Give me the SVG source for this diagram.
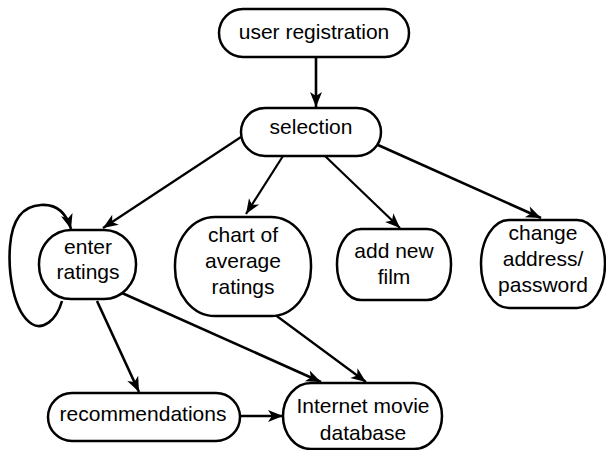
<svg xmlns="http://www.w3.org/2000/svg" width="606" height="450" viewBox="0 0 606 450">
<defs>
<marker id="ah" markerUnits="userSpaceOnUse" markerWidth="20" markerHeight="14" viewBox="-16 -7 17 14" refX="0" refY="0" orient="auto">
<path d="M0,0 L-15,-6 L-11,0 L-15,6 Z" fill="#000"/>
</marker>
</defs>
<style>
.n{fill:#fff;stroke:#000;stroke-width:2.5}
.t{font-family:"Liberation Sans",Arial,Helvetica,sans-serif;font-size:21px;fill:#000;text-anchor:middle}
.e{fill:none;stroke:#000;stroke-width:2.6;marker-end:url(#ah)}
.th{stroke-width:2.2}
</style>
<rect width="606" height="450" fill="#fff"/>
<g id="edges">
<path class="e" d="M316,57 L316,107"/>
<path class="e th" d="M241,137 L103,228"/>
<path class="e th" d="M283,156 L246,214"/>
<path class="e th" d="M325,156 L400,228"/>
<path class="e" d="M378,145 L541,218"/>
<path class="e" d="M97,301 L139,392"/>
<path class="e" d="M122,293 L321,382"/>
<path class="e th" d="M274,314 L366,382"/>
<path class="e" d="M240,416 L283,416"/>
<path class="e" d="M62,301 C56,322 42,330 32,324 C13,312 8,272 10,246 C12,220 22,206 41,205 C56,204 66,212 71,229"/>
</g>
<g id="user-registration">
<rect class="n" x="219" y="9" width="190" height="48" rx="24"/>
<text class="t" x="314" y="39">user registration</text>
</g>
<g id="selection">
<rect class="n" x="241" y="108" width="140" height="48" rx="24"/>
<text class="t" x="311" y="134">selection</text>
</g>
<g id="enter-ratings">
<rect class="n" x="39" y="230" width="97" height="69" rx="32" ry="34"/>
<text class="t" x="88" y="254">enter</text>
<text class="t" x="88" y="279">ratings</text>
</g>
<g id="chart">
<rect class="n" x="175" y="217" width="136" height="99" rx="40" ry="48"/>
<text class="t" x="243" y="242">chart of</text>
<text class="t" x="243" y="268">average</text>
<text class="t" x="243" y="294">ratings</text>
</g>
<g id="add-new-film">
<rect class="n" x="337" y="229" width="114" height="71" rx="24" ry="35"/>
<text class="t" x="394" y="258">add new</text>
<text class="t" x="394" y="284">film</text>
</g>
<g id="change-address">
<rect class="n" x="481" y="220" width="124" height="88" rx="28" ry="44"/>
<text class="t" x="543" y="240">change</text>
<text class="t" x="543" y="266">address/</text>
<text class="t" x="543" y="292">password</text>
</g>
<g id="recommendations">
<rect class="n" x="48" y="393" width="192" height="48" rx="24"/>
<text class="t" x="143" y="421">recommendations</text>
</g>
<g id="internet-movie-database">
<rect class="n" x="283" y="383" width="159" height="66" rx="28" ry="33"/>
<text class="t" x="363" y="413">Internet movie</text>
<text class="t" x="363" y="440">database</text>
</g>
</svg>
